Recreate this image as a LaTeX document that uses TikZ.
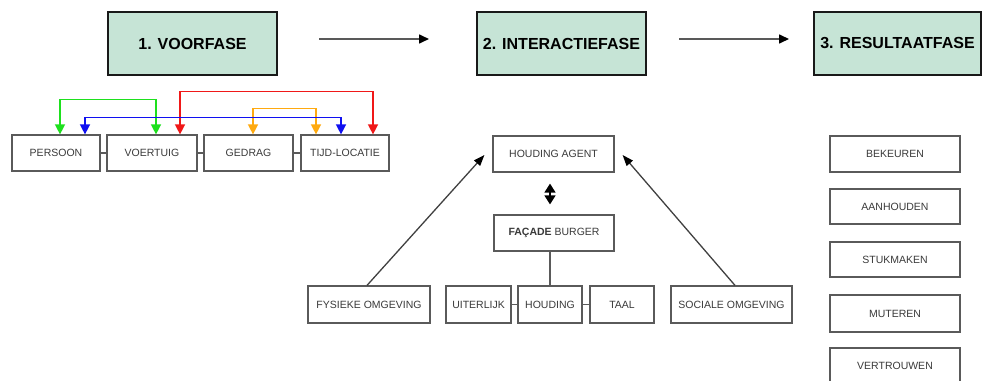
\documentclass[tikz,border=0pt]{standalone}
\usepackage{fontspec}
\setmainfont{Liberation Sans}
\usetikzlibrary{arrows.meta,calc}

\definecolor{phasefill}{HTML}{C6E4D6}
\definecolor{boxline}{HTML}{5A5A5A}
\definecolor{labeltext}{HTML}{3A3A3A}
\definecolor{lgreen}{HTML}{1EE01E}
\definecolor{lblue}{HTML}{1010F0}
\definecolor{lred}{HTML}{F01818}
\definecolor{lorange}{HTML}{FFAA10}

\tikzset{
  phase/.style={draw=black!90, line width=2pt, fill=phasefill, inner sep=0pt,
    minimum height=63pt, font=\fontsize{16}{19}\selectfont\bfseries},
  item/.style={draw=boxline, line width=1.2pt, fill=white, inner sep=0pt,
    minimum height=36pt, text=labeltext, font=\fontsize{10.5}{12}\selectfont},
  joint/.style={draw=boxline, line width=1.2pt},
  flow/.style={draw=black!65, line width=1.6pt,
    -{Triangle[width=9pt,length=10pt,fill=black,color=black]}},
  link/.style={line width=1.4pt, line cap=round,
    {Triangle[width=10pt,length=10pt]}-{Triangle[width=10pt,length=10pt]}},
  influence/.style={draw=black!75, line width=1.3pt,
    -{Triangle[width=8pt,length=11pt,fill=black,color=black]}},
  swap/.style={draw=black, line width=1.4pt,
    {Triangle[width=11pt,length=9pt]}-{Triangle[width=11pt,length=9pt]}},
}

\begin{document}
\begin{tikzpicture}[x=1pt,y=-1pt]
  \useasboundingbox (0,0) rectangle (982,380);

  % phases
  \node[phase, minimum width=169pt] (p1) at (192.5,43.5) {1. VOORFASE};
  \node[phase, minimum width=169pt] (p2) at (561.5,43.5) {2. INTERACTIEFASE};
  \node[phase, minimum width=167pt] (p3) at (897.5,43.5) {3. RESULTAATFASE};
  \draw[flow] ($(p1.east)+(41,-4.5)$) -- ($(p2.west)+(-47,-4.5)$);
  \draw[flow] ($(p2.east)+(32,-4.5)$) -- ($(p3.west)+(-24,-4.5)$);

  % voorfase
  \node[item, minimum width=88pt] (persoon)  at (56,153)    {PERSOON};
  \node[item, minimum width=90pt] (voertuig) at (152,153)   {VOERTUIG};
  \node[item, minimum width=89pt] (gedrag)   at (248.5,153) {GEDRAG};
  \node[item, minimum width=88pt] (tijd)     at (345,153)   {TIJD-LOCATIE};
  \draw[joint] (persoon) -- (voertuig);
  \draw[joint] (voertuig) -- (gedrag);
  \draw[joint] (gedrag) -- (tijd);

  \draw[link, lred]    ([xshift=28pt]voertuig.north) -- ++(0,-43) -| ([xshift=28pt]tijd.north);
  \draw[link, lgreen]  ([xshift=4pt]persoon.north)   -- ++(0,-35) -| ([xshift=4pt]voertuig.north);
  \draw[link, lorange] ([xshift=4.5pt]gedrag.north)  -- ++(0,-26) -| ([xshift=-29pt]tijd.north);
  \draw[link, lblue]   ([xshift=29pt]persoon.north)  -- ++(0,-17) -| ([xshift=-4pt]tijd.north);

  % interactiefase
  \node[item, minimum width=121pt] (agent)  at (553.5,154) {HOUDING AGENT};
  \node[item, minimum width=120pt] (facade) at (554,233)   {\textbf{FAÇADE} BURGER};
  \node[item, minimum width=122pt, minimum height=37pt] (fysiek)   at (369,304.5)   {FYSIEKE OMGEVING};
  \node[item, minimum width=65pt,  minimum height=37pt] (uiterlijk) at (478.5,304.5) {UITERLIJK};
  \node[item, minimum width=64pt,  minimum height=37pt] (houding)  at (550,304.5)   {HOUDING};
  \node[item, minimum width=64pt,  minimum height=37pt] (taal)     at (622,304.5)   {TAAL};
  \node[item, minimum width=121pt, minimum height=37pt] (sociaal)  at (731.5,304.5) {SOCIALE OMGEVING};
  \draw[joint] (uiterlijk) -- (houding);
  \draw[joint] (houding) -- (taal);
  \draw[joint] (houding.north) -- (houding.north |- facade.south);
  \draw[swap] ($(houding.north |- agent.south)+(0,11)$) -- ($(houding.north |- facade.north)+(0,-10)$);
  \draw[influence] ([xshift=-2pt]fysiek.north) -- ($(agent.west)+(-8,1)$);
  \draw[influence] ([xshift=3.5pt]sociaal.north) -- ($(agent.east)+(8,1)$);

  % resultaatfase
  \node[item, minimum width=130pt] (bekeuren)   at (895,154)   {BEKEUREN};
  \node[item, minimum width=130pt, minimum height=35pt] (aanhouden) at (895,206.5) {AANHOUDEN};
  \node[item, minimum width=130pt, minimum height=35pt] (stukmaken) at (895,259.5) {STUKMAKEN};
  \node[item, minimum width=130pt, minimum height=37pt] (muteren)   at (895,313.5) {MUTEREN};
  \node[item, minimum width=130pt] (vertrouwen) at (895,366)   {VERTROUWEN};
\end{tikzpicture}
\end{document}
